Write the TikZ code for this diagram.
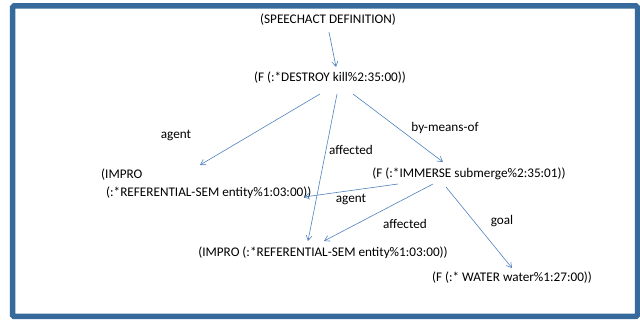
\documentclass[tikz,border=0pt]{standalone}
\usepackage{fontspec}
\setmainfont{Carlito}
\usetikzlibrary{arrows.meta}
\definecolor{frameblue}{RGB}{55,106,156}
\definecolor{linkblue}{RGB}{79,129,189}
\begin{document}
\begin{tikzpicture}[x=1pt,y=-1pt,
  lbl/.style={font=\fontsize{13.2}{18}\selectfont, inner sep=1pt},
  link/.style={draw=linkblue, line width=0.6pt, -{Straight Barb[length=5pt,width=6pt]}}]
\useasboundingbox (0,0) rectangle (640,320);
% outer frame
\draw[frameblue, line width=5.5pt, rounded corners=1.5pt] (12.5,6) rectangle (637.5,316.5);

% concept nodes
\node[lbl] (sa) at (328,20) {(SPEECHACT DEFINITION)};
\node[lbl] (kill) at (330,78) {(F (:*DESTROY kill\%2:35:00))};
\node[lbl, align=left, anchor=west] (ent1) at (100,184) {(IMPRO\\\hspace*{5pt}(:*REFERENTIAL-SEM entity\%1:03:00))};
\node[lbl] (sub) at (469,174) {(F (:*IMMERSE submerge\%2:35:01))};
\node[lbl] (ent2) at (323,253) {(IMPRO (:*REFERENTIAL-SEM entity\%1:03:00))};
\node[lbl] (water) at (512,278) {(F (:* WATER water\%1:27:00))};

% anchor points for the links
\coordinate (k1) at (320,94);
\coordinate (k2) at (337,94);
\coordinate (k3) at (353,94);
\coordinate (s1) at (398,184);
\coordinate (s2) at (433,184);
\coordinate (s3) at (446,187);

\draw[link] (329,32) -- (336,67);
\draw[link] (k1) -- (200,165);
\draw[link] (k2) -- (308,241);
\draw[link] (k3) -- (443,162);
\draw[link] (s1) -- (304,197);
\draw[link] (s2) -- (324,241);
\draw[link] (s3) -- (512,268);

% link labels
\node[lbl] (l1) at (176,135) {agent};
\node[lbl] (l2) at (351,150) {affected};
\node[lbl] (l3) at (445,128) {by-means-of};
\node[lbl] (l4) at (351,199) {agent};
\node[lbl] (l5) at (405,224) {affected};
\node[lbl] (l6) at (502,221) {goal};
\end{tikzpicture}
\end{document}
